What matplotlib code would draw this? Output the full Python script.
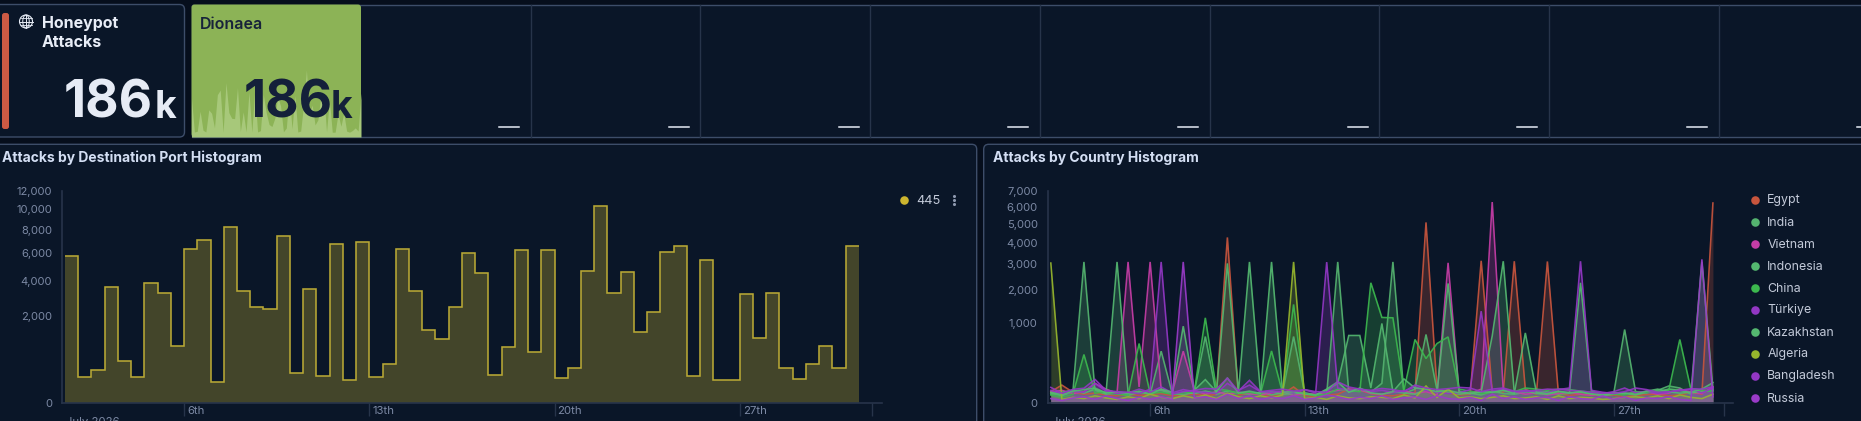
import numpy as np
import pandas as pd
import matplotlib
matplotlib.use("Agg")
import matplotlib.pyplot as plt
import matplotlib.dates as mdates
from matplotlib.patches import Rectangle, FancyBboxPatch, Circle, Ellipse

W, H = 1861, 421
plt.rcParams["font.family"] = ["Inter", "DejaVu Sans"]

# attacks on port 445, one value per 12h bucket
port_values = [
    5790, 175, 293, 3600, 473, 179, 3825, 3257, 868, 6326,
    7084, 117, 8310, 3375, 2436, 2370, 7487, 238, 3496, 188,
    6767, 140, 6937, 179, 396, 6350, 3375, 1409, 1083, 2436,
    5971, 4488, 207, 829, 6269, 696, 6212, 169, 330, 4627,
    10395, 3257, 4606, 1344, 2189, 6108, 6599, 188, 5482, 136,
    144, 3181, 1117, 3257, 318, 148, 416, 859, 330, 6574,
]

countries = ["Egypt", "India", "Vietnam", "Indonesia", "China", "Türkiye",
             "Kazakhstan", "Algeria", "Bangladesh", "Russia"]
country_colors = ["#c8553d", "#54b36f", "#c53da6", "#54b870", "#3cb84e",
                  "#9237c4", "#54b870", "#96b52d", "#9237c4", "#9a3bc9"]

egypt = [20, 50, 18, 12, 15, 10, 8, 12, 9, 11,
         14, 8, 10, 12, 9, 11, 4270, 10, 14, 12,
         8, 12, 40, 9, 6, 10, 12, 30, 25, 14,
         9, 8, 12, 15, 5080, 28, 16, 10, 12, 3150,
         22, 18, 3130, 30, 12, 3120, 14, 9, 12, 10,
         8, 10, 6, 9, 11, 12, 8, 10, 18, 12, 6230]
india = [15, 8, 20, 3100, 25, 12, 15, 9, 18, 12,
         418, 14, 10, 18, 688, 12, 22, 16, 12, 18,
         10, 16, 688, 15, 9, 12, 3100, 20, 25, 18,
         60, 3100, 14, 30, 731, 25, 18, 12, 15, 10,
         22, 14, 12, 18, 22, 20, 12, 15, 18, 14,
         8, 12, 841, 18, 16, 25, 45, 35, 12, 3100, 30]
vietnam = [18, 25, 14, 20, 60, 30, 15, 3100, 40, 3100,
           28, 16, 418, 25, 12, 20, 12, 18, 14, 10,
           16, 20, 9, 14, 12, 18, 25, 30, 28, 14,
           12, 18, 22, 14, 20, 10, 3060, 18, 14, 30,
           6290, 25, 20, 12, 16, 10, 14, 18, 12, 9,
           14, 16, 12, 18, 20, 12, 15, 30, 18, 14, 40]
indonesia = [12, 18, 25, 15, 30, 14, 3100, 20, 16, 22,
             25, 12, 18, 14, 22, 14, 3036, 18, 3100, 16,
             20, 12, 14, 16, 10, 25, 60, 710, 710, 35,
             985, 20, 16, 12, 30, 18, 2227, 22, 14, 18,
             700, 3130, 18, 25, 14, 12, 20, 16, 2250, 22,
             12, 16, 14, 10, 18, 20, 30, 25, 16, 20, 25]
china = [10, 5, 12, 366, 15, 20, 12, 10, 551, 14,
         18, 12, 16, 20, 1130, 30, 25, 14, 18, 12,
         422, 16, 1513, 14, 8, 12, 30, 25, 20, 2250,
         1140, 1130, 25, 628, 308, 551, 680, 30, 22, 14,
         18, 25, 20, 35, 30, 25, 30, 28, 22, 18,
         14, 12, 10, 20, 18, 20, 25, 628, 30, 26, 22]
turkiye = [25, 12, 20, 18, 60, 22, 14, 16, 30, 18,
           40, 16, 28, 20, 18, 14, 60, 25, 50, 20,
           18, 22, 15, 28, 16, 3092, 35, 25, 30, 20,
           25, 18, 22, 40, 25, 18, 14, 16, 28, 1313,
           22, 30, 18, 25, 20, 16, 30, 25, 22, 18,
           14, 20, 35, 16, 22, 14, 18, 25, 28, 16, 35]
kazakhstan = [18, 10, 22, 28, 35, 16, 20, 14, 22, 12,
              30, 18, 919, 25, 85, 20, 98, 16, 22, 14,
              3100, 18, 20, 12, 10, 30, 70, 18, 35, 16,
              12, 20, 90, 35, 30, 20, 25, 16, 14, 20,
              18, 25, 14, 765, 18, 14, 22, 16, 20, 12,
              10, 14, 16, 12, 22, 30, 20, 15, 18, 30, 65]
algeria = [3050, 2, 5, 3, 8, 4, 2, 6, 3, 12,
           5, 3, 8, 4, 10, 3, 15, 6, 3, 8,
           4, 10, 3100, 3, 5, 2, 8, 4, 3, 6,
           5, 3, 10, 4, 45, 5, 30, 4, 6, 3,
           5, 8, 3, 4, 6, 2, 8, 3, 5, 4,
           2, 3, 5, 6, 4, 8, 3, 10, 5, 3, 12]
bangladesh = [38, 15, 29, 34, 87, 25, 20, 18, 14, 30,
              3100, 12, 20, 25, 33, 30, 96, 22, 80, 20,
              25, 30, 22, 28, 20, 18, 70, 40, 30, 25,
              33, 28, 20, 50, 35, 28, 32, 38, 35, 20,
              30, 35, 22, 20, 25, 30, 28, 35, 3130, 25,
              18, 14, 20, 35, 28, 18, 20, 25, 32, 30, 40]
russia = [3, 1, 4, 6, 2, 8, 3, 1, 5, 2,
          6, 2, 3100, 4, 6, 2, 12, 3, 8, 2,
          5, 3, 8, 2, 4, 10, 6, 2, 5, 3,
          8, 2, 4, 6, 2, 8, 3, 2, 5, 1,
          12, 3, 6, 2, 4, 5, 1, 6, 3, 2,
          8, 2, 6, 1, 4, 3, 6, 2, 1, 3213, 6]
country_series = [egypt, india, vietnam, indonesia, china, turkiye,
                  kazakhstan, algeria, bangladesh, russia]

port_ticks = [0, 2000, 4000, 6000, 8000, 10000, 12000]
country_ticks = [0, 1000, 2000, 3000, 4000, 5000, 6000, 7000]
date_ticks = ["2026-07-06", "2026-07-13", "2026-07-20", "2026-07-27", "2026-08-01"]
date_labels = ["6th", "13th", "20th", "27th", ""]

GUTTER = "#060e1c"
PANEL = "#0a1628"
BORDER = "#3d4d69"
AXIS = "#27344a"
TICK_TEXT = "#7d8aa5"


def px_axes(x0, y0, x1, y1, zorder=2):
    # axes from pixel box, y measured from the top of the picture
    ax = fig.add_axes([x0 / W, 1 - y1 / H, (x1 - x0) / W, (y1 - y0) / H], zorder=zorder)
    ax.patch.set_alpha(0)
    return ax


def sqrt_fwd(v):
    return np.sqrt(np.maximum(np.asarray(v, dtype=float), 0))


def sqrt_inv(v):
    return np.asarray(v, dtype=float) ** 2


def style_chart(ax, ticks, top, pad):
    ax.set_yscale("function", functions=(sqrt_fwd, sqrt_inv))
    ax.set_ylim(0, top)
    ax.set_yticks(ticks)
    ax.set_yticklabels([f"{t:,}" for t in ticks], color=TICK_TEXT, fontsize=8)
    ax.minorticks_off()
    ax.tick_params(axis="y", length=0, pad=pad)
    ax.tick_params(axis="x", length=9, width=1, color=AXIS, labelbottom=False)
    for side in ["top", "right"]:
        ax.spines[side].set_visible(False)
    for side in ["left", "bottom"]:
        ax.spines[side].set_color(AXIS)
        ax.spines[side].set_linewidth(1.2)
    tick_dates = mdates.date2num(pd.to_datetime(date_ticks))
    ax.set_xticks(tick_dates)
    for d, lab in zip(tick_dates, date_labels):
        ax.annotate(lab, xy=(d, 0), xycoords=ax.get_xaxis_transform(), xytext=(2.2, -6),
                    textcoords="offset points", color=TICK_TEXT, fontsize=8.2, va="center",
                    annotation_clip=False)
    # cut by the lower edge of the picture, as in the dashboard screenshot
    ax.annotate("July 2026", xy=(0, 0), xycoords="axes fraction", xytext=(3, -10),
                textcoords="offset points", color=TICK_TEXT, fontsize=8.2, va="top",
                annotation_clip=False)


fig = plt.figure(figsize=(W / 100, H / 100), dpi=100, facecolor=GUTTER)

# panels and metric cards
bg = px_axes(0, 0, W, H, zorder=0)
bg.set_xlim(0, W)
bg.set_ylim(H, 0)
bg.axis("off")

bg.add_patch(FancyBboxPatch((-6, 4.5), 190.5, 132.5, boxstyle="round,pad=0,rounding_size=5",
                            fc=PANEL, ec=BORDER, lw=1))
bg.add_patch(Rectangle((191.5, 4.5), W, 132.5, fc=PANEL, ec=BORDER, lw=1))
for i in range(9):
    xd = 530.7 + i * 169.7
    bg.plot([xd, xd], [4.5, 137], color="#27344a", lw=1)
    bg.plot([xd - 31.5, xd - 11.5], [127, 127], color="#e6ebf5", lw=1.1)
bg.add_patch(FancyBboxPatch((2, 13), 7, 116, boxstyle="round,pad=0,rounding_size=2.5",
                            fc="#cc5a44", ec="none"))
bg.add_patch(FancyBboxPatch((-6, 144.3), 982.7, 300, boxstyle="round,pad=0,rounding_size=5",
                            fc=PANEL, ec=BORDER, lw=1))
bg.add_patch(FancyBboxPatch((983.7, 144.3), 900, 300, boxstyle="round,pad=0,rounding_size=5",
                            fc=PANEL, ec=BORDER, lw=1))
bg.add_patch(FancyBboxPatch((191.5, 4.5), 169.5, 132.5, boxstyle="round,pad=0,rounding_size=3",
                            fc="#8cb356", ec="none"))

# sparkline inside the green card
sp = px_axes(191.5, 70, 361, 137, zorder=1)
sp.fill_between(range(len(port_values)), port_values, -650, color="#a7c87a", lw=0)
sp.set_xlim(0, len(port_values) - 1)
sp.set_ylim(-650, max(port_values))
sp.axis("off")

# destination port histogram
ax1 = px_axes(62, 191, 882, 403)
bins = pd.date_range("2026-07-01 12:00", periods=len(port_values) + 1, freq="12h")
edges = mdates.date2num(bins)
ax1.stairs(port_values, edges, fill=True, color="#c9b52f", alpha=0.3, lw=0)
ax1.stairs(port_values, edges, baseline=None, color="#b8a835", lw=1.15)
ax1.set_xlim(mdates.date2num(pd.Timestamp("2026-07-01 09:18")),
             mdates.date2num(pd.Timestamp("2026-08-01 09:00")))
style_chart(ax1, port_ticks, 12000, 7.2)

# country histogram
ax2 = px_axes(1047.7, 191, 1733, 403)
times = mdates.date2num(pd.date_range("2026-07-01 12:00", periods=len(egypt), freq="12h"))
for vals, col in zip(country_series, country_colors):
    ax2.fill_between(times, vals, 0, color=col, alpha=0.25, lw=0)
    ax2.plot(times, vals, color=col, lw=1.15, alpha=0.92, solid_joinstyle="miter")
ax2.set_xlim(mdates.date2num(pd.Timestamp("2026-07-01 08:36")),
             mdates.date2num(pd.Timestamp("2026-08-01 09:50")))
style_chart(ax2, country_ticks, 7000, 7.2)

# all text and small marks on top
top = px_axes(0, 0, W, H, zorder=5)
top.set_xlim(0, W)
top.set_ylim(H, 0)
top.axis("off")

top.add_patch(Circle((26, 21.5), 6.5, fc="none", ec="#e6ebf5", lw=0.8))
top.add_patch(Ellipse((26, 21.5), 6.5, 13, fc="none", ec="#e6ebf5", lw=0.7))
top.plot([26, 26], [15, 28], color="#e6ebf5", lw=0.7)
top.plot([19.5, 32.5], [21.5, 21.5], color="#e6ebf5", lw=0.7)
top.plot([20.5, 31.5], [18, 18], color="#e6ebf5", lw=0.6)
top.plot([20.5, 31.5], [25, 25], color="#e6ebf5", lw=0.6)

top.text(42, 23.5, "Honeypot", color="#e8edf7", fontsize=11.5, fontweight="bold", va="center")
top.text(42, 42.5, "Attacks", color="#e8edf7", fontsize=11.5, fontweight="bold", va="center")
top.text(152.5, 118, "186", color="#e6ebf5", fontsize=37, fontweight="bold", ha="right", va="baseline")
top.text(176, 118, "k", color="#e6ebf5", fontsize=27, fontweight="bold", ha="right", va="baseline")

top.text(200, 24.5, "Dionaea", color="#17233a", fontsize=11.5, fontweight="semibold", va="center")
top.text(332.5, 118, "186", color="#14203a", fontsize=37, fontweight="bold", ha="right", va="baseline")
top.text(352.5, 118, "k", color="#14203a", fontsize=27, fontweight="bold", ha="right", va="baseline")

top.text(2.5, 158, "Attacks by Destination Port Histogram", color="#d3def3", fontsize=10,
         fontweight="bold", va="center")
top.text(992.7, 158, "Attacks by Country Histogram", color="#d3def3", fontsize=10,
         fontweight="bold", va="center")

# legends
top.scatter([904], [200], s=38, color="#cdb52f", lw=0)
top.text(916.5, 200.5, "445", color="#c3cad9", fontsize=9.2, va="center")
top.scatter([954, 954, 954], [196, 200, 204], s=5, color="#8d98ae", lw=0)

for i, (name, col) in enumerate(zip(countries, country_colors)):
    y = 200 + 22 * i
    top.scatter([1755], [y], s=38, color=col, lw=0)
    top.text(1767.3, y + 0.5, name, color="#c3cad9", fontsize=8.9, va="center")

fig.savefig("out.png", dpi=100, facecolor=GUTTER)
